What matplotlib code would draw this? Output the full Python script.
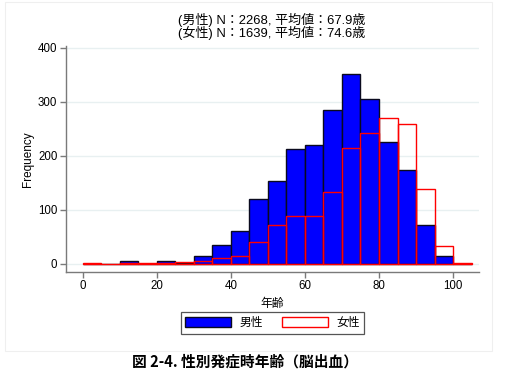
import matplotlib
matplotlib.use("Agg")
import matplotlib.pyplot as plt
from matplotlib.patches import Patch, Rectangle

# ---- data ----
bin_left = [0, 5, 10, 15, 20, 25, 30, 35, 40, 45, 50, 55, 60, 65, 70, 75, 80, 85, 90, 95, 100]
male = [0, 0, 6, 0, 6, 1, 15, 35, 61, 120, 153, 213, 220, 285, 352, 305, 225, 174, 72, 14, 0]
female = [2, 0, 1, 2, 1, 4, 6, 11, 15, 41, 72, 88, 88, 133, 215, 242, 269, 258, 138, 34, 1]
bin_width = 5
xticks = [0, 20, 40, 60, 80, 100]
yticks = [0, 100, 200, 300, 400]
title_lines = ["(男性) N：2268, 平均値：67.9歳", "(女性) N：1639, 平均値：74.6歳"]
labels = ["男性", "女性"]
caption = "図 2-4. 性別発症時年齢（脳出血）"

FAM = ["Liberation Sans", "Noto Sans CJK JP", "DejaVu Sans"]
plt.rcParams["font.family"] = FAM

W, H = 510, 384
fig = plt.figure(figsize=(W / 100, H / 100), dpi=100)

# faint outer graph frame
fig.patches.append(Rectangle((5 / W, 1 - 351 / H), (492 - 5) / W, (351 - 2) / H,
                             transform=fig.transFigure, fill=False,
                             edgecolor="#efefef", lw=0.8))

ax = fig.add_axes([65.7 / W, 1 - 271.7 / H, (479 - 65.7) / W, (271.7 - 46) / H])
ax.set_xlim(-4.6, 107.0)
ax.set_ylim(-14.4, 403)

for y in yticks:
    ax.axhline(y, color="#e8f0f1", lw=1.0, zorder=0)

ax.bar(bin_left, male, width=bin_width, align="edge", color="#0000ff",
       edgecolor="#0a0a1e", linewidth=1.0, zorder=2)
ax.bar(bin_left, female, width=bin_width, align="edge", fill=False,
       edgecolor="#ff0000", linewidth=1.0, zorder=3)

for s in ["top", "right"]:
    ax.spines[s].set_visible(False)
for s in ["left", "bottom"]:
    ax.spines[s].set_color("#7a7a7a")
    ax.spines[s].set_linewidth(1.0)

ax.set_xticks(xticks)
ax.set_yticks(yticks)
ax.tick_params(axis="both", length=4, width=1, color="#7a7a7a",
               labelsize=8.3, pad=2)
ax.set_ylabel("Frequency", fontsize=8.5, labelpad=3)
ax.set_xlabel("年齢", fontsize=8.5, labelpad=4)

fig.text(272 / W, 1 - 20.2 / H, title_lines[0], ha="center", va="center", fontsize=9.4)
fig.text(272 / W, 1 - 33.4 / H, title_lines[1], ha="center", va="center", fontsize=9.4)

handles = [Patch(facecolor="#0000ff", edgecolor="#0a0a1e", lw=1.0),
           Patch(facecolor="white", edgecolor="#ff0000", lw=1.0)]
leg = fig.legend(handles, labels, loc="center", ncol=2,
                 bbox_to_anchor=(272.5 / W, 1 - 323 / H),
                 fontsize=8.5, handlelength=3.9, handleheight=1.0,
                 handletextpad=0.7, columnspacing=1.6, borderpad=0.4,
                 fancybox=False, framealpha=1)
leg.get_frame().set_edgecolor("#555555")
leg.get_frame().set_linewidth(0.9)

fig.text(245 / W, 1 - 362 / H, caption, ha="center", va="center", fontsize=10.6,
         family=["Noto Sans CJK JP", "DejaVu Sans"], weight="bold")

fig.savefig("out.png", dpi=100)
